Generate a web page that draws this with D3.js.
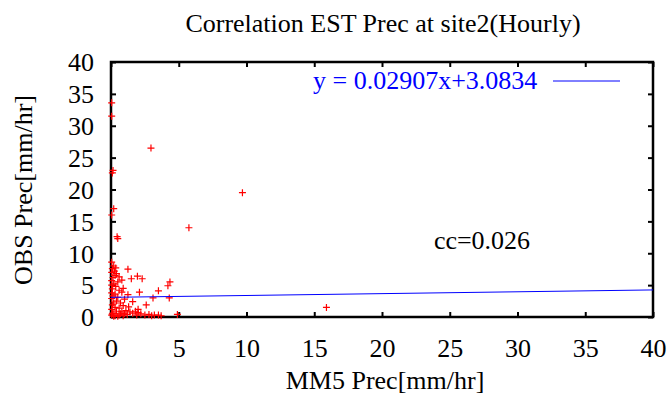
<!DOCTYPE html>
<html>
<head>
<meta charset="utf-8">
<script src="https://cdn.jsdelivr.net/npm/d3@7"></script>
<style>
  body { margin: 0; background: #fff; }
  text { font-family: "Liberation Serif", "Times New Roman", serif; }
</style>
</head>
<body>
<div id="chart"></div>
<script>
// MM5 (x) and OBS (y) hourly precip
const mm5 = [0.05, 0.05, 2.95, 9.7, 5.75, 15.9, 0.15, 0.1, 0.2, 0.05, 0.45, 0.5,
  0.05, 0.2, 0.1, 0.35, 0.25, 0.05, 0.4, 0.3, 0.6, 0.15, 0.8, 0.05, 0.5, 0.2, 0.05, 0.35, 0.9, 0.1, 0.6, 0.8, 0.05, 0.3, 0.15, 0.5, 0.05,
  1.25, 1.5, 1.95, 2.3, 4.35, 4.2, 3.5, 2.1, 1.25, 3.1, 4.3, 1.6, 1.0, 0.7, 0.9, 0.4, 0.2, 0.1, 0.3, 0.6, 0.05, 1.3, 2.0, 2.6, 1.8, 1.1, 0.8, 0.4, 0.15, 0.05, 0.3,
  0.6, 1.0, 1.2, 1.6, 1.9, 2.2, 2.5, 2.8, 3.0, 3.2, 3.5, 3.7, 4.9, 2.0, 1.4, 0.7, 0.5, 0.9, 0.2, 0.1];
const obs = [33.6, 31.5, 26.5, 19.5, 14, 1.5, 23, 22.6, 17, 16, 12.6, 12.3,
  8.6, 8, 7.6, 7.7, 7.2, 7, 6.8, 6.5, 6.3, 6.2, 5.8, 5.7, 5.5, 5.2, 5, 4.8, 4.5, 4.4, 4.2, 3.9, 3.8, 3.6, 3.3, 3.1, 2.9,
  7.5, 6, 6.4, 6, 5.5, 4.9, 4.1, 3.9, 3.5, 3, 3, 2.4, 2.8, 2.2, 1.8, 2.5, 2.2, 1.9, 1.5, 1.4, 1.2, 1.6, 1.2, 1.9, 0.9, 1.0, 0.8, 0.9, 0.6, 0.3, 0.2,
  0.3, 0.5, 0.4, 0.6, 0.3, 0.5, 0.3, 0.4, 0.2, 0.3, 0.3, 0.2, 0.4, 0.7, 0.8, 0.5, 0.1, 0.2, 0.1, 0.5];
const xTicks = [0, 5, 10, 15, 20, 25, 30, 35, 40];
const yTicks = [0, 5, 10, 15, 20, 25, 30, 35, 40];
const slope = 0.02907, intercept = 3.0834;
const fitLabel = 'y = 0.02907x+3.0834';
const ccLabel = 'cc=0.026';

const W = 670, H = 396;
const margin = { left: 111, right: 653, top: 62, bottom: 317 };
const fs = '26px';

const svg = d3.select('#chart').append('svg')
  .attr('width', W).attr('height', H);

const x = d3.scaleLinear().domain([0, 40]).range([margin.left, margin.right]);
const y = d3.scaleLinear().domain([0, 40]).range([margin.bottom, margin.top]);

// title
svg.append('text')
  .attr('x', 383).attr('y', 32)
  .attr('text-anchor', 'middle')
  .style('font-size', fs)
  .text('Correlation EST Prec at site2(Hourly)');

// axes with inward ticks (mirrored on top/right)
const tickLen = 5;
const axB = svg.append('g').attr('transform', `translate(0,${margin.bottom})`)
  .call(d3.axisBottom(x).tickValues(xTicks).tickSize(-tickLen));
const axL = svg.append('g').attr('transform', `translate(${margin.left},0)`)
  .call(d3.axisLeft(y).tickValues(yTicks).tickSize(-tickLen));
const axT = svg.append('g').attr('transform', `translate(0,${margin.top})`)
  .call(d3.axisTop(x).tickValues(xTicks).tickSize(-tickLen).tickFormat(''));
const axR = svg.append('g').attr('transform', `translate(${margin.right},0)`)
  .call(d3.axisRight(y).tickValues(yTicks).tickSize(-tickLen).tickFormat(''));

[axB, axL, axT, axR].forEach(g => {
  g.select('.domain').remove();
  g.selectAll('.tick line').attr('stroke', '#000').attr('stroke-width', 2);
  g.selectAll('.tick text')
    .attr('fill', '#000')
    .style('font-family', '"Liberation Serif", serif')
    .style('font-size', fs);
});
axB.selectAll('.tick text').attr('dy', null).attr('y', 40);
axL.selectAll('.tick text').attr('x', -17).attr('dy', '0.34em');

// frame
svg.append('rect')
  .attr('x', margin.left).attr('y', margin.top)
  .attr('width', margin.right - margin.left).attr('height', margin.bottom - margin.top)
  .attr('fill', 'none').attr('stroke', '#000').attr('stroke-width', 2.5);

// scatter points as "+"
const pts = mm5.map((v, i) => [v, obs[i]]);
const s = 3.5;
svg.append('g').selectAll('path')
  .data(pts)
  .enter()
  .append('path')
  .attr('d', d => {
    const px = x(d[0]), py = y(d[1]);
    return `M${px - s},${py}H${px + s}M${px},${py - s}V${py + s}`;
  })
  .attr('stroke', '#ff0000')
  .attr('stroke-width', 1.2)
  .attr('fill', 'none');

// regression line
svg.append('line')
  .attr('x1', x(0)).attr('y1', y(intercept))
  .attr('x2', x(40)).attr('y2', y(intercept + slope * 40))
  .attr('stroke', '#0000ff').attr('stroke-width', 1);

// legend
svg.append('text')
  .attr('x', 313).attr('y', 89)
  .attr('fill', '#0000ff')
  .style('font-size', fs)
  .text(fitLabel);
svg.append('line')
  .attr('x1', 553).attr('x2', 620)
  .attr('y1', 81).attr('y2', 81)
  .attr('stroke', '#0000ff').attr('stroke-width', 1);

// cc annotation
svg.append('text')
  .attr('x', 482).attr('y', 249)
  .attr('text-anchor', 'middle')
  .style('font-size', fs)
  .text(ccLabel);

// axis labels
svg.append('text')
  .attr('x', 385).attr('y', 389)
  .attr('text-anchor', 'middle')
  .style('font-size', fs)
  .text('MM5 Prec[mm/hr]');
svg.append('text')
  .attr('transform', 'translate(32,190) rotate(-90)')
  .attr('text-anchor', 'middle')
  .style('font-size', fs)
  .text('OBS Prec[mm/hr]');
</script>
</body>
</html>
